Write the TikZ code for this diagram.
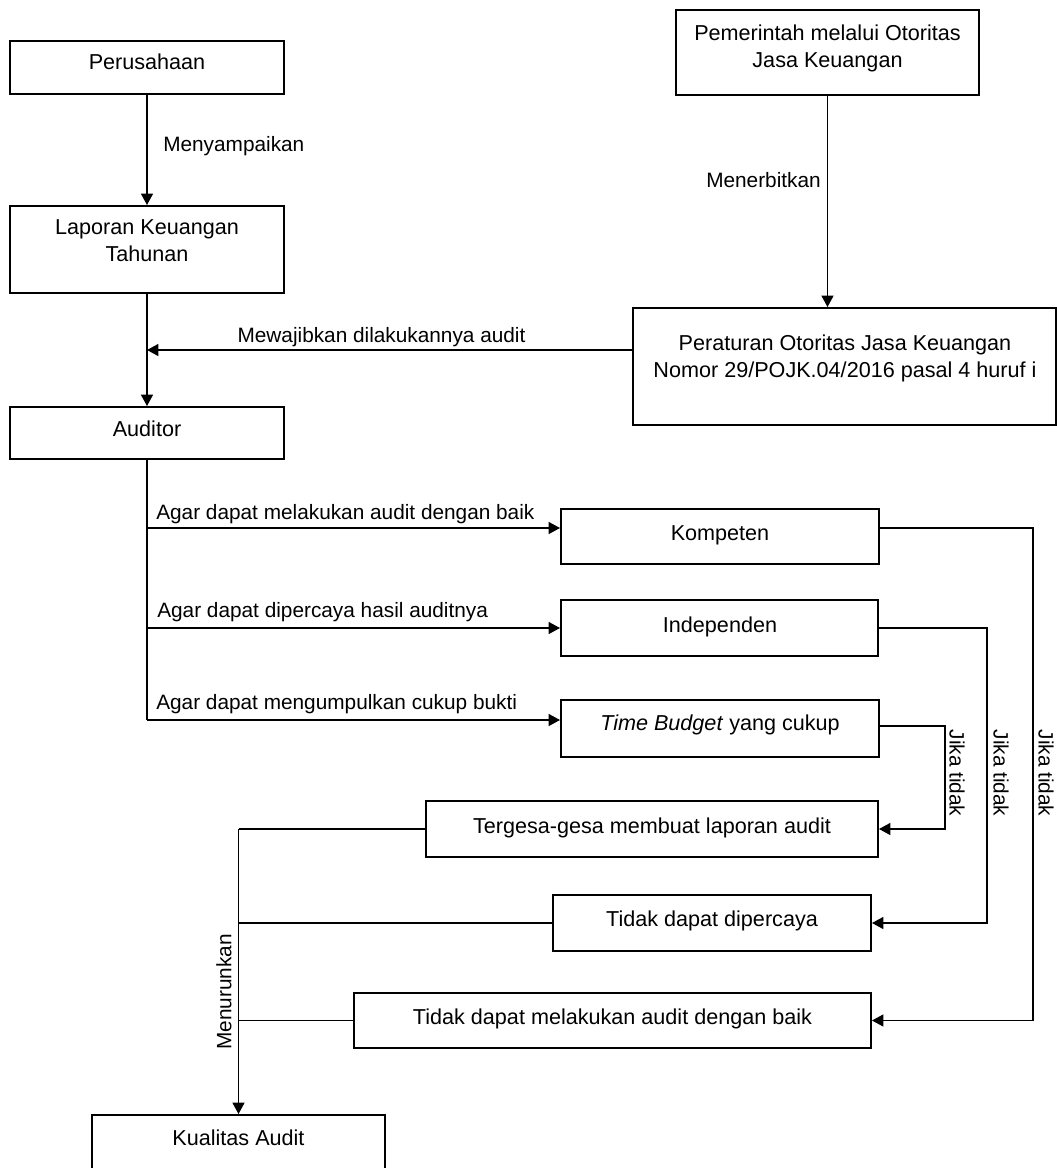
\documentclass[tikz,border=0pt]{standalone}
\usepackage{fontspec}
\setmainfont{Liberation Sans}
\usetikzlibrary{arrows.meta,fit}

\begin{document}
\begin{tikzpicture}[x=0.75pt,y=0.75pt,yscale=-1,xscale=1,
  box/.style={draw, line width=1.5pt, inner sep=0pt},
  ln/.style={line width=0.9pt},
  arr/.style={ln, -{Triangle[length=8.5pt,width=9pt]}},
  txt/.style={font=\fontsize{16.2}{20}\selectfont, align=center, inner sep=0pt},
  txtone/.style={txt, text height=11.7pt, text depth=0pt},
  lbl/.style={font=\fontsize{15.6}{18}\selectfont, inner sep=0pt, text height=11.2pt, text depth=0pt}]
\path[use as bounding box, clip] (0,0) rectangle (1057,1168);

%Shape: Rectangle
\node[box, fit={(10,41) (284,94)}] (perusahaan) {};
%Shape: Rectangle
\node[box, fit={(10,206) (284,293)}] (laporan) {};
%Shape: Rectangle
\node[box, fit={(10,407) (284,459)}] (auditor) {};
%Shape: Rectangle
\node[box, fit={(676,10) (979,95)}] (pemerintah) {};
%Shape: Rectangle
\node[box, fit={(633,308) (1056,425)}] (peraturan) {};
%Shape: Rectangle
\node[box, fit={(561,509) (879,564)}] (kompeten) {};
%Shape: Rectangle
\node[box, fit={(561,600) (878,656)}] (independen) {};
%Shape: Rectangle
\node[box, fit={(561,700) (879,757)}] (budget) {};
%Shape: Rectangle
\node[box, fit={(426,801) (878,857)}] (tergesa) {};
%Shape: Rectangle
\node[box, fit={(553,895) (871,951)}] (dipercaya) {};
%Shape: Rectangle
\node[box, fit={(354,993) (871,1048)}] (melakukan) {};
%Shape: Rectangle
\node[box, fit={(92,1115) (385,1195)}] (kualitas) {};

%Straight Lines
\draw[arr] (perusahaan) -- (laporan);
%Straight Lines
\draw[arr] (laporan) -- (auditor);
%Straight Lines
\draw[arr] (pemerintah.south) -- (pemerintah.south |- peraturan.north);
%Straight Lines
\coordinate (m) at (147,350);
\draw[arr] (peraturan.west |- m) -- (m);

%Straight Lines
\coordinate (a1) at (147,528);
\coordinate (a2) at (147,628);
\coordinate (a3) at (147,720);
\draw[ln] (auditor.south) -- (a3);
\draw[arr] (a1) -- (a1 -| kompeten.west);
\draw[arr] (a2) -- (a2 -| independen.west);
\draw[arr] (a3) -- (a3 -| budget.west);

%Straight Lines
\coordinate (j1) at (945,726);
\coordinate (j2) at (987,628);
\coordinate (j3) at (1033,528);
\draw[arr] (budget.east |- j1) -- (j1) |- (tergesa.east);
\draw[arr] (independen.east |- j2) -- (j2) |- (dipercaya.east);
\draw[arr] (kompeten.east |- j3) -- (j3) |- (melakukan.east);

%Straight Lines
\draw[ln] (tergesa.west) -- (tergesa.west -| kualitas.north);
\draw[ln] (dipercaya.west) -- (dipercaya.west -| kualitas.north);
\draw[ln] (melakukan.west) -- (melakukan.west -| kualitas.north);
\draw[arr] (tergesa.west -| kualitas.north) -- (kualitas.north);

% Text Node
\node[txtone] (perusahaan-t) at (147,62) {Perusahaan};
% Text Node
\node[txt] (laporan-t) at (147,241) {Laporan Keuangan\\Tahunan};
% Text Node
\node[txtone] (auditor-t) at (147,429) {Auditor};
% Text Node
\node[txt] (pemerintah-t) at (827.5,48.5) {Pemerintah melalui Otoritas\\Jasa Keuangan};
% Text Node
\node[txt] (peraturan-t) at (845,358.5) {Peraturan Otoritas Jasa Keuangan\\Nomor 29/POJK.04/2016 pasal 4 huruf i};
% Text Node
\node[txtone] (kompeten-t) at (720,533) {Kompeten};
% Text Node
\node[txtone] (independen-t) at (720,625) {Independen};
% Text Node
\node[txtone] (budget-t) at (720,723) {\textit{Time Budget} yang cukup};
% Text Node
\node[txtone] (tergesa-t) at (652,826) {Tergesa-gesa membuat laporan audit};
% Text Node
\node[txtone] (dipercaya-t) at (712,919) {Tidak dapat dipercaya};
% Text Node
\node[txtone] (melakukan-t) at (612.5,1017) {Tidak dapat melakukan audit dengan baik};
% Text Node
\node[txtone] (kualitas-t) at (238.5,1138) {Kualitas Audit};

% Text Node
\node[lbl, anchor=west] (menyampaikan) at (163,144) {Menyampaikan};
% Text Node
\node[lbl] (menerbitkan) at (763.5,180) {Menerbitkan};
% Text Node
\node[lbl] (mewajibkan) at (381.5,335) {Mewajibkan dilakukannya audit};
% Text Node
\node[lbl, anchor=west] (agar1) at (156,512) {Agar dapat melakukan audit dengan baik};
% Text Node
\node[lbl, anchor=west] (agar2) at (157,610) {Agar dapat dipercaya hasil auditnya};
% Text Node
\node[lbl, anchor=west] (agar3) at (156,702) {Agar dapat mengumpulkan cukup bukti};
% Text Node
\node[lbl, rotate=-90] (jika1) at (957,773) {Jika tidak};
% Text Node
\node[lbl, rotate=-90] (jika2) at (1001,773) {Jika tidak};
% Text Node
\node[lbl, rotate=-90] (jika3) at (1046,773) {Jika tidak};
% Text Node
\node[lbl, rotate=90] (menurunkan) at (224,992) {Menurunkan};

\end{tikzpicture}
\end{document}
